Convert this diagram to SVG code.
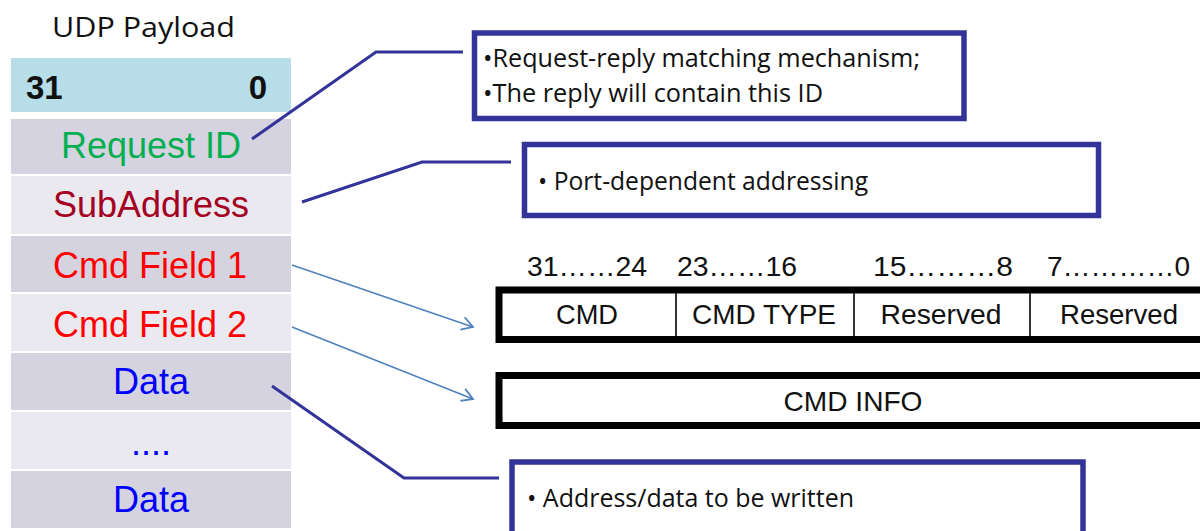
<svg xmlns="http://www.w3.org/2000/svg" width="1200" height="531" viewBox="0 0 1200 531">
  <style>
    .cal { font-family: "Open Sans", "Noto Sans", "DejaVu Sans", sans-serif; fill: #111111; }
    .ar { font-family: "Liberation Sans", Arial, sans-serif; }
    .row { font-size: 36px; text-anchor: middle; }
    .dark { fill: #d6d3e1; }
    .light { fill: #ebe9f0; }
    .note { fill: #ffffff; stroke: #333399; stroke-width: 5.5; }
    .leader { fill: none; stroke: #333399; stroke-width: 3; stroke-linejoin: miter; }
    .ptr { fill: none; stroke: #4f81bd; stroke-width: 1.6; }
    .fld { fill: #ffffff; stroke: #000000; stroke-width: 7; }
    .div { stroke: #333333; stroke-width: 2; }
    .cell { font-size: 28px; text-anchor: middle; fill: #111111; }
    .bits { font-size: 27px; fill: #111111; }
  </style>
  <defs>
    <marker id="open" markerUnits="userSpaceOnUse" markerWidth="16" markerHeight="16" refX="13" refY="8" orient="auto">
      <path d="M2,1.5 L13,8 L2,14.5" fill="none" stroke="#4f81bd" stroke-width="1.8"/>
    </marker>
  </defs>
  <rect width="1200" height="531" fill="#ffffff"/>

  <g id="payload-title">
    <text class="cal" x="52" y="37" font-size="28" textLength="183" lengthAdjust="spacingAndGlyphs">UDP Payload</text>
  </g>
  <g id="header">
    <rect x="11" y="58" width="280" height="54" fill="#b6dde8"/>
    <text class="ar" x="26" y="99" font-size="33" font-weight="bold" fill="#111111">31</text>
    <text class="ar" x="267" y="99" font-size="33" font-weight="bold" fill="#111111" text-anchor="end">0</text>
  </g>
  <g id="row-request-id">
    <rect class="dark" x="11" y="119" width="280" height="55"/>
    <text class="ar row" x="151" y="158" fill="#00b050">Request ID</text>
  </g>
  <g id="row-subaddress">
    <rect class="light" x="11" y="176" width="280" height="58"/>
    <text class="ar row" x="151" y="217" fill="#a50021">SubAddress</text>
  </g>
  <g id="row-cmd1">
    <rect class="dark" x="11" y="236" width="280" height="56"/>
    <text class="ar row" x="150" y="278" fill="#ff0000">Cmd Field 1</text>
  </g>
  <g id="row-cmd2">
    <rect class="light" x="11" y="294" width="280" height="57"/>
    <text class="ar row" x="150" y="337" fill="#ff0000">Cmd Field 2</text>
  </g>
  <g id="row-data1">
    <rect class="dark" x="11" y="353" width="280" height="57"/>
    <text class="ar row" x="151" y="394" fill="#0000ff">Data</text>
  </g>
  <g id="row-dots">
    <rect class="light" x="11" y="412" width="280" height="57"/>
    <text class="ar row" x="151" y="455" fill="#0000ff" textLength="40" lengthAdjust="spacing">....</text>
  </g>
  <g id="row-data2">
    <rect class="dark" x="11" y="471" width="280" height="57"/>
    <text class="ar row" x="151" y="512" fill="#0000ff">Data</text>
  </g>

  <g id="note-request">
    <rect class="note" x="474.5" y="33" width="489.5" height="85.5"/>
    <text class="cal" x="483" y="67" font-size="25" textLength="437" lengthAdjust="spacingAndGlyphs">•Request-reply matching mechanism;</text>
    <text class="cal" x="483" y="102" font-size="25" textLength="340" lengthAdjust="spacingAndGlyphs">•The reply will contain this ID</text>
  </g>
  <g id="note-port">
    <rect class="note" x="524.5" y="144.5" width="574" height="71"/>
    <text class="cal" x="538" y="190" font-size="25" textLength="330" lengthAdjust="spacingAndGlyphs">• Port-dependent addressing</text>
  </g>
  <g id="note-data">
    <rect class="note" x="512" y="462" width="571" height="80"/>
    <text class="cal" x="527" y="507" font-size="25" textLength="327" lengthAdjust="spacingAndGlyphs">• Address/data to be written</text>
  </g>

  <g id="bit-labels" class="ar">
    <text class="bits" x="527" y="276" textLength="120" lengthAdjust="spacingAndGlyphs">31……24</text>
    <text class="bits" x="677" y="276" textLength="120" lengthAdjust="spacingAndGlyphs">23……16</text>
    <text class="bits" x="873" y="276" textLength="140" lengthAdjust="spacingAndGlyphs">15………8</text>
    <text class="bits" x="1047" y="276" textLength="143" lengthAdjust="spacingAndGlyphs">7…………0</text>
  </g>
  <g id="cmd-field" class="ar">
    <rect class="fld" x="499" y="290" width="720" height="49.5"/>
    <line class="div" x1="676" y1="293" x2="676" y2="336"/>
    <line class="div" x1="854" y1="293" x2="854" y2="336"/>
    <line class="div" x1="1030" y1="293" x2="1030" y2="336"/>
    <text class="cell" x="587" y="324" textLength="62" lengthAdjust="spacingAndGlyphs">CMD</text>
    <text class="cell" x="764" y="324" textLength="144" lengthAdjust="spacingAndGlyphs">CMD TYPE</text>
    <text class="cell" x="941" y="324" textLength="121" lengthAdjust="spacingAndGlyphs">Reserved</text>
    <text class="cell" x="1119" y="324" textLength="118" lengthAdjust="spacingAndGlyphs">Reserved</text>
  </g>
  <g id="cmd-info" class="ar">
    <rect class="fld" x="499" y="375.5" width="720" height="50"/>
    <text class="cell" x="853" y="411" textLength="139" lengthAdjust="spacingAndGlyphs">CMD INFO</text>
  </g>

  <g id="connectors">
    <polyline class="leader" points="252,139 376,52 463,52"/>
    <polyline class="leader" points="302,202 422,162 511,162"/>
    <polyline class="leader" points="272,386 404,478 499,478"/>
    <line class="ptr" x1="292" y1="265" x2="473" y2="327" marker-end="url(#open)"/>
    <line class="ptr" x1="292" y1="327" x2="473" y2="399" marker-end="url(#open)"/>
  </g>
</svg>
